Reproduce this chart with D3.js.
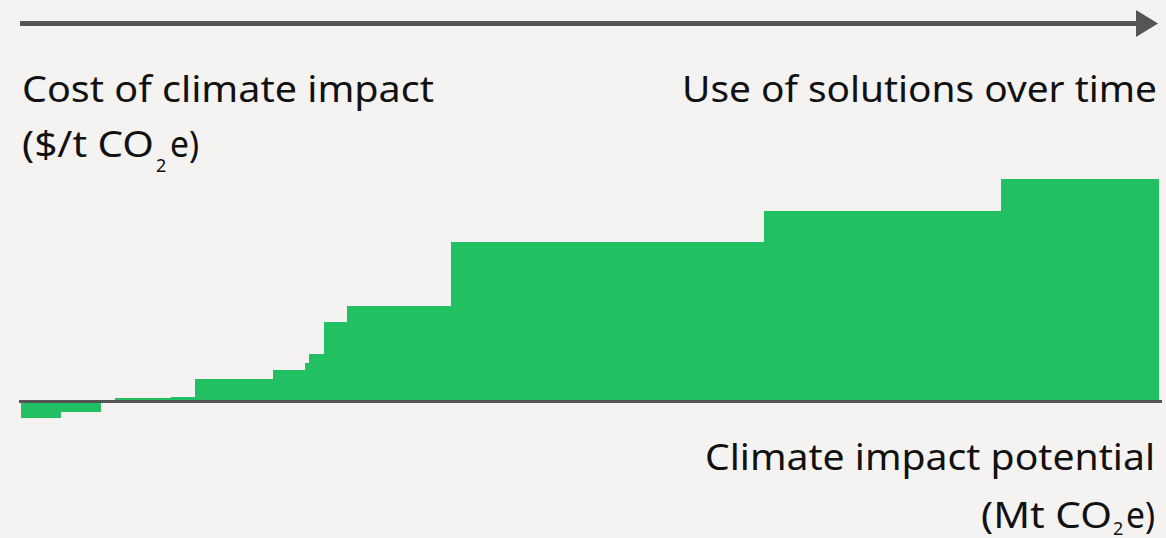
<!DOCTYPE html>
<html>
<head>
<meta charset="utf-8">
<script src="https://cdn.jsdelivr.net/npm/d3@7"></script>
<style>
  html, body { margin: 0; padding: 0; background: #f4f3f1; }
  svg { display: block; }
  text { font-family: "Noto Sans", "Open Sans", sans-serif; fill: #111; }
</style>
</head>
<body>
<svg id="chart" width="1166" height="538"></svg>
<script>
// Solutions (ordered by cost), their climate impact potential (width, Mt CO2e)
const solutions = ["S1","S2","S3","S4","S5","S6","S7","S8","S9","S10","S11","S12","S13","S14"];
const potential = [40, 40, 14, 56, 24, 78, 32, 4, 15, 23, 104, 313, 237, 158];
// Cost of climate impact ($/t CO2e), conceptual units
const cost = [-16, -10, 1.5, 3.5, 5, 22.5, 31.5, 38.5, 47.5, 79.5, 95.5, 159.5, 190.5, 222.5];

const yAxisTitle = ["Cost of climate impact", "($/t CO", "2", "e)"];
const xAxisTitle = ["Climate impact potential", "(Mt CO", "2", "e)"];
const arrowLabel = "Use of solutions over time";

const svg = d3.select("#chart");
const W = 1166, H = 538;

const totalPotential = d3.sum(potential);
const x = d3.scaleLinear().domain([0, totalPotential]).range([21, 1159]);
const y = d3.scaleLinear().domain([-20, 230]).range([421.5, 171.5]);

const starts = d3.cumsum([0].concat(potential.slice(0, -1)));
const data = solutions.map((s, i) => ({ name: s, start: starts[i], width: potential[i], cost: cost[i] }));

const green = "#22c063";
const dark = "#555555";

svg.append("rect").attr("width", W).attr("height", H).attr("fill", "#f4f3f1");

// Bars
svg.append("g").selectAll("rect").data(data).join("rect")
  .attr("x", d => x(d.start))
  .attr("width", d => x(d.start + d.width) - x(d.start))
  .attr("y", d => Math.min(y(0), y(d.cost)))
  .attr("height", d => Math.abs(y(d.cost) - y(0)))
  .attr("fill", green)
  .attr("shape-rendering", "crispEdges");

// Baseline axis (zero)
svg.append("line")
  .attr("x1", 19).attr("x2", 1162)
  .attr("y1", y(0)).attr("y2", y(0))
  .attr("stroke", dark).attr("stroke-width", 3);

// Top arrow
svg.append("line")
  .attr("x1", 20).attr("x2", 1138)
  .attr("y1", 23.5).attr("y2", 23.5)
  .attr("stroke", dark).attr("stroke-width", 5);
svg.append("path")
  .attr("d", "M1136,10 L1158,23.5 L1136,37 Z")
  .attr("fill", dark);

// Texts
const fs = 37, subFs = 18;
function label(str, xPos, yPos, len, size, anchor) {
  const t = svg.append("text")
    .attr("x", xPos).attr("y", yPos)
    .attr("font-size", size)
    .attr("text-anchor", anchor || "start")
    .text(str);
  if (len) t.attr("textLength", len).attr("lengthAdjust", "spacingAndGlyphs");
  return t;
}

// y-axis title (top-left)
label(yAxisTitle[0], 22, 102, 412, fs);
label(yAxisTitle[1], 22, 157, 132, fs);
label(yAxisTitle[2], 156, 172, null, subFs);
label(yAxisTitle[3], 170, 157, 29, fs);

// arrow label (top-right)
label(arrowLabel, 1157, 102, 475, fs, "end");

// x-axis title (bottom-right)
label(xAxisTitle[0], 1155, 470, 450, fs, "end");
label(xAxisTitle[1], 981, 528, 131, fs);
label(xAxisTitle[2], 1113, 535, null, subFs);
label(xAxisTitle[3], 1126, 528, 29, fs);
</script>
</body>
</html>
